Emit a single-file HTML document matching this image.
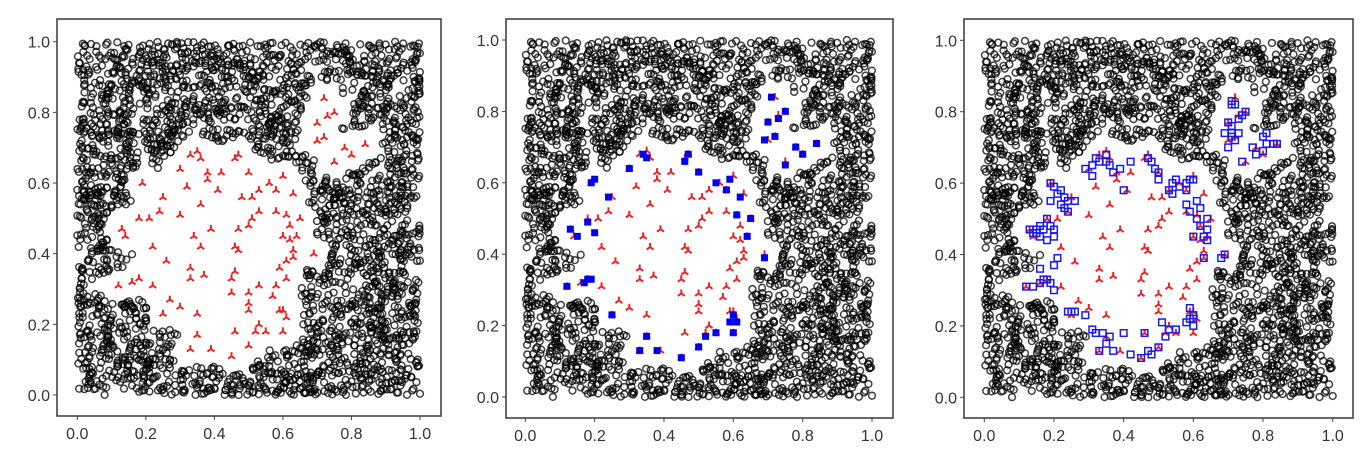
<!DOCTYPE html>
<html><head><meta charset="utf-8"><style>
html,body{margin:0;padding:0;background:#fff;width:1370px;height:450px;overflow:hidden}
svg{display:block}
text{font-family:"Liberation Sans",sans-serif;font-size:16px;fill:#333340}
</style></head><body>
<svg id="c" width="1370" height="450"></svg>
<script>
const xTicks=[0,0.2,0.4,0.6,0.8,1.0];
const yTicks=[0,0.2,0.4,0.6,0.8,1.0];
const tickLabels=["0.0","0.2","0.4","0.6","0.8","1.0"];
const redX=[.72,.70,.73,.75,.70,.72,.78,.80,.84,.75,.35,.33,.36,.47,.46,.30,.38,.42,.50,.19,.38,.41,.32,.48,.51,.56,.58,.53,.60,.63,.25,.24,.21,.18,.30,.36,.53,.51,.50,.47,.58,.61,.65,.62,.60,.62,.64,.13,.14,.39,.34,.22,.36,.46,.47,.63,.63,.61,.59,.69,.26,.33,.46,.37,.33,.45,.61,.12,.16,.18,.22,.53,.58,.50,.45,.57,.27,.30,.50,.59,.60,.35,.25,.50,.61,.53,.52,.55,.35,.46,.60,.33,.39,.50,.45];
const redY=[.84,.77,.79,.80,.72,.73,.70,.68,.71,.66,.69,.68,.67,.68,.67,.64,.63,.63,.63,.60,.61,.58,.59,.56,.56,.60,.58,.58,.62,.57,.56,.52,.50,.50,.51,.54,.52,.50,.48,.47,.52,.51,.50,.48,.45,.44,.45,.47,.45,.47,.45,.42,.42,.42,.41,.41,.39,.38,.36,.40,.38,.36,.35,.34,.33,.33,.33,.31,.32,.33,.31,.31,.31,.29,.29,.28,.27,.25,.26,.24,.24,.23,.23,.24,.22,.20,.18,.18,.17,.18,.18,.13,.13,.14,.11];
const blue2X=[.71,.70,.73,.75,.72,.69,.84,.78,.80,.75,.34,.35,.46,.47,.30,.50,.19,.20,.55,.58,.59,.62,.24,.13,.15,.18,.20,.61,.65,.64,.69,.12,.17,.18,.19,.25,.35,.33,.38,.45,.50,.52,.55,.60,.59,.61,.60];
const blue2Y=[.84,.77,.78,.80,.73,.72,.71,.70,.68,.65,.68,.67,.66,.68,.64,.63,.60,.61,.60,.58,.61,.56,.56,.47,.45,.49,.46,.51,.50,.45,.39,.31,.32,.33,.33,.23,.17,.13,.13,.11,.14,.17,.18,.23,.21,.21,.18];
const blue3X=[.71,.71,.72,.70,.71,.73,.74,.75,.69,.71,.72,.70,.73,.71,.74,.77,.78,.80,.81,.81,.83,.84,.80,
.32,.33,.35,.35,.36,.31,.37,.31,.29,.39,.42,.40,.47,.48,.50,.49,.50,.54,.55,.56,.58,.59,.60,.58,.53,.54,
.19,.20,.21,.22,.23,.24,.26,.23,.24,.19,.22,
.13,.14,.15,.16,.17,.18,.19,.20,.20,.16,.15,.18,.21,.20,
.12,.14,.16,.17,.18,.19,.20,.16,
.61,.62,.58,.59,.61,.62,.64,.64,.63,.64,.60,.63,.68,.69,
.24,.25,.26,.29,.31,.32,.34,.35,.33,.36,.37,.40,.42,.45,.46,.47,.48,.50,.51,.52,.53,.55,.59,.60,.60,.60,.59,.58];
const blue3Y=[.83,.82,.82,.77,.76,.78,.79,.80,.74,.73,.72,.70,.74,.74,.66,.70,.68,.69,.74,.71,.71,.71,.73,
.67,.66,.68,.66,.65,.65,.63,.62,.64,.64,.66,.58,.67,.66,.63,.64,.61,.60,.61,.59,.60,.61,.61,.58,.58,.57,
.60,.59,.57,.58,.56,.55,.55,.53,.52,.55,.54,
.47,.46,.47,.48,.47,.50,.48,.47,.45,.45,.46,.44,.39,.37,
.31,.31,.32,.33,.33,.32,.30,.36,
.55,.53,.54,.52,.50,.48,.50,.47,.45,.44,.45,.39,.39,.40,
.24,.24,.24,.23,.19,.18,.18,.15,.13,.17,.13,.18,.12,.11,.18,.13,.12,.14,.21,.17,.19,.19,.25,.23,.22,.20,.22,.21];

const NS="http://www.w3.org/2000/svg";
const svg=document.getElementById('c');
function mk(t,a,p){const e=document.createElementNS(NS,t);for(const k in a)e.setAttribute(k,a[k]);(p||svg).appendChild(e);return e;}

// background point cloud (texture): seeded, excluded from the region around the red points
let seed=12345;
function rnd(){seed=(seed*1664525+1013904223)>>>0;return seed/4294967296;}
const blackX=[],blackY=[];
for(let i=0;i<4200;i++){
  const x=rnd(),y=rnd();
  let ok=true;
  if(Math.hypot(x-.41,y-.40)<.24)ok=false;
  for(let j=0;j<redX.length&&ok;j++){if(Math.hypot(x-redX[j],y-redY[j])<.05)ok=false;}
  if(ok){blackX.push(x);blackY.push(y);}
}

const panels=[
 {name:'panel-1',L:57,R:441,T:19,B:416,x0:77.3,x1:420,y1:41.7,y0:395,mode:0},
 {name:'panel-2',L:506,R:893,T:19,B:418,x0:525.3,x1:872,y1:40,y0:397,mode:1},
 {name:'panel-3',L:964,R:1353,T:19,B:418,x0:984.3,x1:1332.7,y1:40.3,y0:397.3,mode:2}
];
panels.forEach(P=>{
  const g=mk('g',{});
  
  
  const sx=v=>P.x0+v*(P.x1-P.x0), sy=v=>P.y0-v*(P.y0-P.y1);
  const frame=mk('rect',{x:P.L,y:P.T,width:P.R-P.L,height:P.B-P.T,fill:'#fff',stroke:'#444','stroke-width':1.6},g);
  
  
  xTicks.forEach((v,i)=>{
    mk('line',{x1:sx(v),x2:sx(v),y1:P.B,y2:P.B+4,stroke:'#444'},g);
    const t=mk('text',{x:sx(v),y:P.B+23,'text-anchor':'middle'},g);t.textContent=tickLabels[i];
    
    
  });
  yTicks.forEach((v,i)=>{
    mk('line',{x1:P.L-4,x2:P.L,y1:sy(v),y2:sy(v),stroke:'#444'},g);
    const t=mk('text',{x:P.L-7,y:sy(v)+6,'text-anchor':'end'},g);t.textContent=tickLabels[i];
    
    
  });
  const bg=mk('g',{fill:'none',stroke:'#000','stroke-width':1.5,'stroke-opacity':0.75},g);
  
  
  for(let i=0;i<blackX.length;i++)mk('circle',{cx:sx(blackX[i]),cy:sy(blackY[i]),r:3.4},bg);
  const rg=mk('g',{stroke:'#ee2222','stroke-width':2},g);
  
  
  for(let i=0;i<redX.length;i++){
    const x=sx(redX[i]),y=sy(redY[i]);
    mk('path',{d:`M${x} ${y}V${y-4}M${x} ${y}L${x-3.5} ${y+2.5}M${x} ${y}L${x+3.5} ${y+2.5}`},rg);
  }
  if(P.mode===1){
    const b=mk('g',{fill:'#0000ee'},g);
    
    
    for(let i=0;i<blue2X.length;i++)mk('rect',{x:sx(blue2X[i])-3.5,y:sy(blue2Y[i])-3.5,width:7,height:7},b);
  }
  if(P.mode===2){
    const b=mk('g',{fill:'none',stroke:'#1a1aee','stroke-width':1.5},g);
    
    
    for(let i=0;i<blue3X.length;i++)mk('rect',{x:sx(blue3X[i])-3.3,y:sy(blue3Y[i])-3.3,width:6.6,height:6.6},b);
  }
});
</script>
</body></html>
